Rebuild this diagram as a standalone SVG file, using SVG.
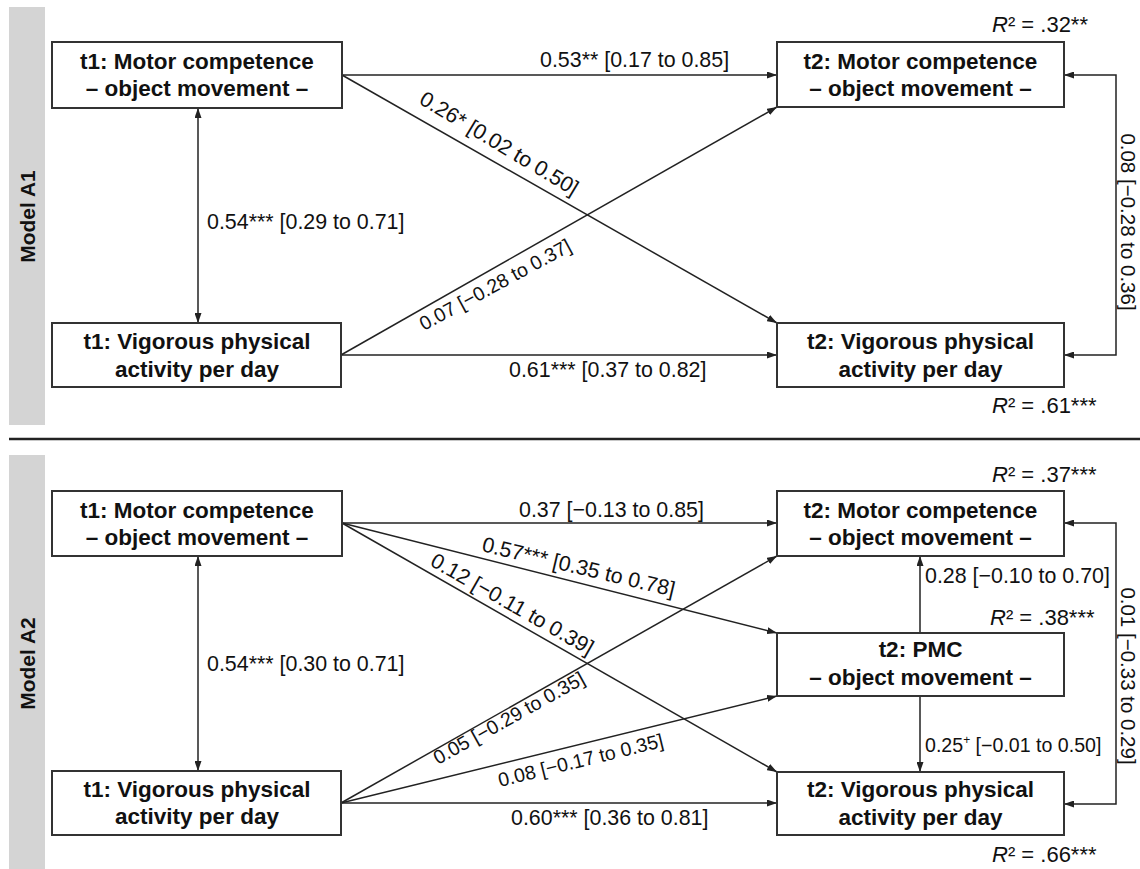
<svg xmlns="http://www.w3.org/2000/svg" width="1140" height="869" viewBox="0 0 1140 869">
<style>
.bar{fill:#d4d4d4}
.box{fill:#fff;stroke:#333;stroke-width:2}
.nt{font-family:"Liberation Sans",Arial,sans-serif;font-weight:bold;font-size:22.5px;fill:#111;text-anchor:middle}
.ml{font-family:"Liberation Sans",Arial,sans-serif;font-weight:bold;font-size:21px;fill:#111;text-anchor:middle}
.lb{font-family:"Liberation Sans",Arial,sans-serif;font-size:21.4px;fill:#111}
.lbs{font-family:"Liberation Sans",Arial,sans-serif;font-size:19.6px;fill:#111}
.lbv{font-family:"Liberation Sans",Arial,sans-serif;font-size:20.5px;fill:#111;text-anchor:middle}
.r2{font-family:"Liberation Sans",Arial,sans-serif;font-size:22px;fill:#111}
.e{fill:none;stroke:#222;stroke-width:1.5;marker-end:url(#ah)}
.e2{fill:none;stroke:#222;stroke-width:1.5;marker-end:url(#ah);marker-start:url(#ah)}
</style>
<defs>
<marker id="ah" markerUnits="userSpaceOnUse" markerWidth="10" markerHeight="7" refX="10" refY="3.5" orient="auto-start-reverse">
<path d="M0,0 L10,3.5 L0,7 z" fill="#222"/>
</marker>
</defs>
<rect width="1140" height="869" fill="#fff"/>
<g id="panels">
<rect class="bar" x="9" y="7" width="36" height="418"/>
<rect class="bar" x="9" y="455" width="36" height="414"/>
<line x1="9" y1="439" x2="1140" y2="439" stroke="#222" stroke-width="2.5"/>
<text class="ml" transform="translate(35,216.5) rotate(-90)">Model A1</text>
<text class="ml" transform="translate(35,663.5) rotate(-90)">Model A2</text>
</g>
<g id="connectors">
<path class="e" d="M342,75 L777,75"/>
<path class="e" d="M342,75 L777,323"/>
<path class="e" d="M341,355 L777,107"/>
<path class="e" d="M341,355 L777,355"/>
<path class="e2" d="M198,108 L198,323"/>
<path class="e2" d="M1064,75 L1116,75 L1116,355 L1064,355"/>
<path class="e" d="M342,523 L777,523"/>
<path class="e" d="M342,523 L777,633"/>
<path class="e" d="M342,523 L777,772"/>
<path class="e" d="M341,803 L777,556"/>
<path class="e" d="M341,803 L777,696"/>
<path class="e" d="M341,803 L777,803"/>
<path class="e2" d="M198,556 L198,771"/>
<path class="e" d="M920,633 L920,556"/>
<path class="e" d="M920,696 L920,772"/>
<path class="e2" d="M1064,523 L1116,523 L1116,804 L1064,804"/>
</g>
<g id="edge-labels">
<text class="lb" x="540" y="67">0.53** [0.17 to 0.85]</text>
<text class="lb" transform="translate(418,103) rotate(31)">0.26* [0.02 to 0.50]</text>
<text class="lbs" transform="translate(424,331) rotate(-28.5)">0.07 [−0.28 to 0.37]</text>
<text class="lb" x="509" y="377">0.61*** [0.37 to 0.82]</text>
<text class="lb" x="207" y="229">0.54*** [0.29 to 0.71]</text>
<text class="lbv" transform="translate(1121,222) rotate(90)">0.08 [−0.28 to 0.36]</text>
<text class="lb" x="519" y="517">0.37 [−0.13 to 0.85]</text>
<text class="lb" transform="translate(481,551) rotate(13.4)">0.57*** [0.35 to 0.78]</text>
<text class="lb" transform="translate(429,565) rotate(29.6)">0.12 [−0.11 to 0.39]</text>
<text class="lbs" transform="translate(438,765) rotate(-29)">0.05 [−0.29 to 0.35]</text>
<text class="lbs" transform="translate(500,787) rotate(-13.8)">0.08 [−0.17 to 0.35]</text>
<text class="lb" x="511" y="825">0.60*** [0.36 to 0.81]</text>
<text class="lb" x="207" y="671">0.54*** [0.30 to 0.71]</text>
<text class="lb" x="925" y="583">0.28 [−0.10 to 0.70]</text>
<text class="lbs" x="925" y="752">0.25<tspan font-size="12" dy="-8">+</tspan><tspan dy="8"> [−0.01 to 0.50]</tspan></text>
<text class="lbv" transform="translate(1121,676) rotate(90)">0.01 [−0.33 to 0.29]</text>
</g>
<g id="r2-labels">
<text class="r2" x="992" y="32"><tspan font-style="italic">R</tspan>² = .32**</text>
<text class="r2" x="992" y="413"><tspan font-style="italic">R</tspan>² = .61***</text>
<text class="r2" x="992" y="482"><tspan font-style="italic">R</tspan>² = .37***</text>
<text class="r2" x="990" y="625"><tspan font-style="italic">R</tspan>² = .38***</text>
<text class="r2" x="992" y="862"><tspan font-style="italic">R</tspan>² = .66***</text>
</g>
<g id="a1-t1-motor">
<rect class="box" x="52" y="42" width="290" height="66"/>
<text class="nt" x="197" y="69">t1: Motor competence</text>
<text class="nt" x="197" y="96">– object movement –</text>
</g>
<g id="a1-t1-vpa">
<rect class="box" x="52" y="323" width="289" height="64"/>
<text class="nt" x="197" y="349">t1: Vigorous physical</text>
<text class="nt" x="197" y="377">activity per day</text>
</g>
<g id="a1-t2-motor">
<rect class="box" x="777" y="42" width="287" height="65"/>
<text class="nt" x="920.5" y="69">t2: Motor competence</text>
<text class="nt" x="920.5" y="96">– object movement –</text>
</g>
<g id="a1-t2-vpa">
<rect class="box" x="777" y="323" width="287" height="64"/>
<text class="nt" x="920.5" y="349">t2: Vigorous physical</text>
<text class="nt" x="920.5" y="377">activity per day</text>
</g>
<g id="a2-t1-motor">
<rect class="box" x="52" y="491" width="290" height="65"/>
<text class="nt" x="197" y="517.5">t1: Motor competence</text>
<text class="nt" x="197" y="544.5">– object movement –</text>
</g>
<g id="a2-t1-vpa">
<rect class="box" x="52" y="771" width="289" height="64"/>
<text class="nt" x="197" y="797">t1: Vigorous physical</text>
<text class="nt" x="197" y="824">activity per day</text>
</g>
<g id="a2-t2-motor">
<rect class="box" x="777" y="491" width="287" height="65"/>
<text class="nt" x="920.5" y="517.5">t2: Motor competence</text>
<text class="nt" x="920.5" y="544.5">– object movement –</text>
</g>
<g id="a2-t2-pmc">
<rect class="box" x="777" y="633" width="287" height="63"/>
<text class="nt" x="920.5" y="657">t2: PMC</text>
<text class="nt" x="920.5" y="685">– object movement –</text>
</g>
<g id="a2-t2-vpa">
<rect class="box" x="777" y="772" width="287" height="63"/>
<text class="nt" x="920.5" y="797">t2: Vigorous physical</text>
<text class="nt" x="920.5" y="825">activity per day</text>
</g>
</svg>
